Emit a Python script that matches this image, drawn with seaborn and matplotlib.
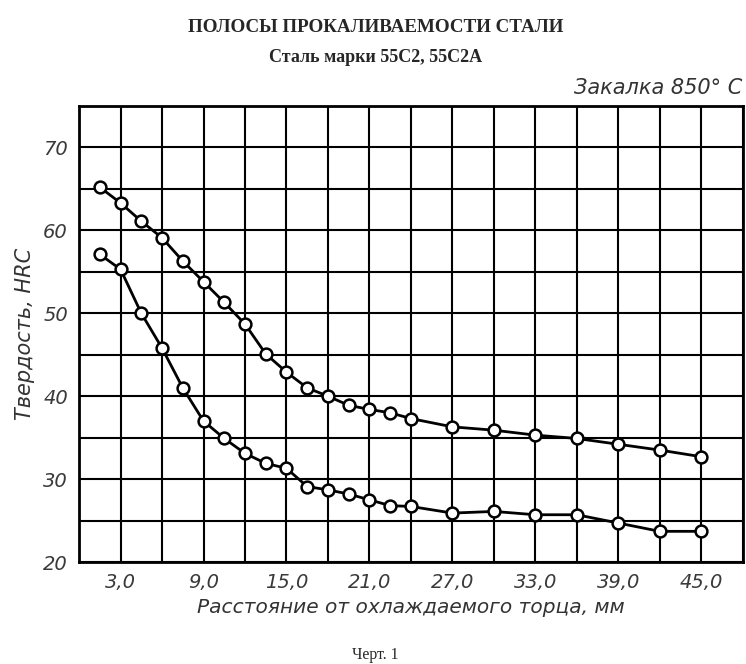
import numpy as np
import pandas as pd
import matplotlib
matplotlib.use("Agg")
import matplotlib.pyplot as plt
import seaborn as sns

# distance from quenched end, mm
distance = [1.5, 3.0, 4.5, 6.0, 7.5, 9.0, 10.5, 12.0, 13.5, 15.0, 16.5, 18.0,
            19.5, 21.0, 22.5, 24.0, 27.0, 30.0, 33.0, 36.0, 39.0, 42.0, 45.0]
# upper / lower band boundaries, HRC
hrc_max = [65.2, 63.3, 61.1, 59.1, 56.3, 53.8, 51.3, 48.7, 45.1, 42.9, 41.0, 40.0,
           38.9, 38.4, 38.0, 37.3, 36.3, 35.9, 35.3, 34.9, 34.2, 33.5, 32.7]
hrc_min = [57.1, 55.3, 50.0, 45.8, 41.0, 37.0, 34.9, 33.1, 31.9, 31.3, 29.1, 28.7,
           28.2, 27.5, 26.8, 26.7, 25.9, 26.1, 25.7, 25.7, 24.7, 23.7, 23.7]

x_labels = [3, 9, 15, 21, 27, 33, 39, 45]
y_labels = [20, 30, 40, 50, 60, 70]

df = pd.DataFrame({
    "dist": distance * 2,
    "hrc": hrc_max + hrc_min,
    "band": ["max"] * len(distance) + ["min"] * len(distance),
})

sns.set_style("white")
plt.rcParams['font.family'] = ['DejaVu Sans']

fig = plt.figure(figsize=(7.46, 6.64), dpi=100)
ax = fig.add_axes([0.106, 0.1536, 0.8896, 0.6868])

sns.lineplot(data=df, x="dist", y="hrc", units="band", estimator=None,
             color="black", linewidth=2, marker="o", markersize=8.5,
             markerfacecolor="white", markeredgecolor="black",
             markeredgewidth=1.8, ax=ax, zorder=3)

ax.set_xlim(0, 48)
ax.set_ylim(20, 75)
ax.set_xticks(x_labels)
ax.set_xticklabels([f"{v},0" for v in x_labels])
ax.set_xticks(np.arange(0, 49, 3), minor=True)
ax.set_yticks(y_labels)
ax.set_yticks(np.arange(20, 76, 5), minor=True)
ax.grid(True, which="both", color="black", linewidth=1.5)
ax.tick_params(which="both", length=0)
ax.tick_params(axis="x", pad=8)
ax.tick_params(axis="y", pad=8)
for lab in ax.get_xticklabels() + ax.get_yticklabels():
    lab.set_fontstyle("italic")
    lab.set_fontsize(14)
    lab.set_color("#3a3a3a")
for s in ax.spines.values():
    s.set_linewidth(2)
    s.set_color("black")

ax.set_xlabel("Расстояние от охлаждаемого торца, мм", fontsize=14.5,
              fontstyle="italic", color="#333333", labelpad=4)
ax.set_ylabel("Твердость, HRC", fontsize=15, fontstyle="italic",
              color="#333333", labelpad=6)

fig.text(0.503, 0.958, "ПОЛОСЫ ПРОКАЛИВАЕМОСТИ СТАЛИ", ha="center", va="center",
         fontsize=13.7, fontweight="bold", family="Liberation Serif")
fig.text(0.503, 0.913, "Сталь марки 55С2, 55С2А", ha="center", va="center",
         fontsize=13, fontweight="bold", family="Liberation Serif")
fig.text(0.995, 0.868, "Закалка 850° С", ha="right", va="center",
         fontsize=15, fontstyle="italic", color="#333333")
fig.text(0.503, 0.014, "Черт. 1", ha="center", va="center",
         fontsize=11.5, family="Liberation Serif")

fig.savefig("out.png", dpi=100)
